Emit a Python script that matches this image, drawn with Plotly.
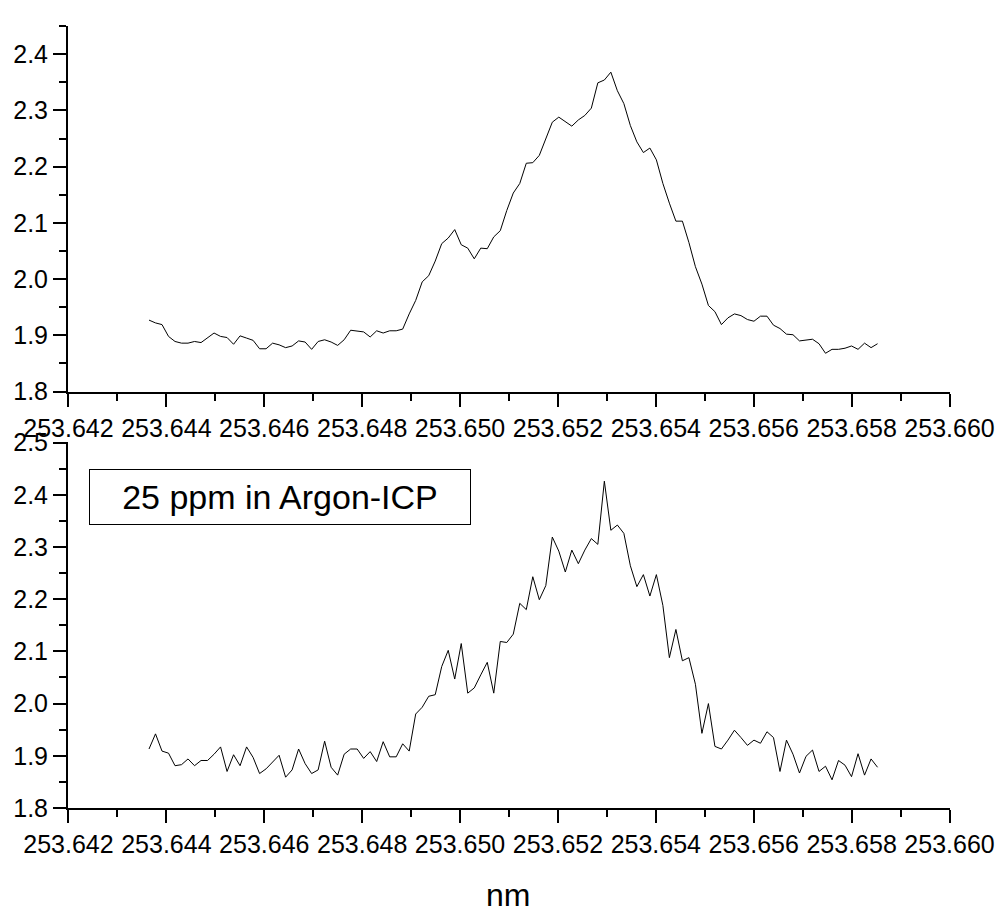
import numpy as np
import plotly.graph_objects as go

# wavelength grid (uniform sampling)
x_start = 253.643645
x_step = 0.0001329
n_points = 113
wavelength = [x_start + i * x_step for i in range(n_points)]

top_signal = [
    1.927, 1.922, 1.919, 1.898, 1.889, 1.886, 1.886, 1.889, 1.887, 1.896,
    1.904, 1.898, 1.896, 1.884, 1.899, 1.895, 1.891, 1.876, 1.876, 1.886,
    1.883, 1.878, 1.881, 1.890, 1.888, 1.875, 1.889, 1.892, 1.888, 1.882,
    1.892, 1.909, 1.907, 1.906, 1.897, 1.908, 1.904, 1.908, 1.908, 1.911,
    1.938, 1.962, 1.995, 2.006, 2.032, 2.063, 2.073, 2.088, 2.061, 2.055,
    2.036, 2.055, 2.054, 2.075, 2.086, 2.122, 2.153,
    2.170, 2.206, 2.207, 2.220, 2.250, 2.279, 2.288, 2.280, 2.272, 2.283,
    2.291, 2.304, 2.349, 2.354, 2.368, 2.335, 2.312, 2.273, 2.244, 2.225,
    2.233, 2.212, 2.170, 2.135, 2.103, 2.103, 2.065, 2.022, 1.991, 1.953,
    1.942, 1.919, 1.931, 1.938, 1.935, 1.928, 1.925, 1.934, 1.934, 1.918,
    1.912, 1.902, 1.901, 1.890, 1.892, 1.893, 1.885, 1.868, 1.875, 1.875,
    1.877, 1.881, 1.875, 1.886, 1.878, 1.885,
]

bottom_signal = [
    1.913, 1.942, 1.909, 1.905, 1.881, 1.883, 1.894, 1.881, 1.891, 1.891,
    1.903, 1.917, 1.870, 1.902, 1.881, 1.917, 1.897, 1.866, 1.875, 1.889,
    1.901, 1.859, 1.873, 1.913, 1.885, 1.866, 1.873, 1.928,
    1.878, 1.863, 1.903, 1.913, 1.913, 1.895, 1.908, 1.889, 1.927, 1.898,
    1.898, 1.923, 1.909, 1.980, 1.993, 2.014, 2.017, 2.071, 2.102, 2.047,
    2.115, 2.020, 2.030, 2.055, 2.079, 2.020, 2.119, 2.117, 2.133, 2.192,
    2.180, 2.243, 2.199, 2.226, 2.319, 2.292, 2.252, 2.294, 2.268, 2.294,
    2.316, 2.305, 2.426, 2.332, 2.342, 2.326, 2.264, 2.224, 2.247, 2.206,
    2.247, 2.188, 2.088, 2.142, 2.082, 2.088, 2.037, 1.943, 2.000, 1.918,
    1.913, 1.930, 1.949, 1.935, 1.920, 1.930, 1.924, 1.946, 1.935, 1.870,
    1.930, 1.903, 1.867, 1.899, 1.911, 1.870, 1.880, 1.854, 1.891, 1.882,
    1.860, 1.904, 1.863, 1.894, 1.878,
]

label_text = "25 ppm in Argon-ICP"
x_title = "nm"

FONT = "Liberation Sans, Arial, sans-serif"

fig = go.Figure()
fig.add_trace(go.Scatter(x=wavelength, y=top_signal, mode="lines",
                         line=dict(color="black", width=1),
                         xaxis="x", yaxis="y", showlegend=False))
fig.add_trace(go.Scatter(x=wavelength, y=bottom_signal, mode="lines",
                         line=dict(color="black", width=1),
                         xaxis="x2", yaxis="y2", showlegend=False))

common_axis = dict(showline=True, linecolor="black", linewidth=2,
                   ticks="outside", ticklen=13, tickwidth=2, tickcolor="black",
                   showgrid=False, zeroline=False,
                   tickfont=dict(family=FONT, size=25, color="black"))

xaxis_common = dict(common_axis, range=[253.64199, 253.66001], tick0=253.642,
                    dtick=0.002, tickformat=".3f",
                    minor=dict(ticks="outside", ticklen=7, tickwidth=2,
                               tickcolor="black", dtick=0.001, showgrid=False))

fig.update_layout(
    width=1007, height=913,
    margin=dict(l=68, r=49, t=17, b=105),
    paper_bgcolor="white", plot_bgcolor="white",
    xaxis=dict(xaxis_common, domain=[0, 1], anchor="y"),
    yaxis=dict(common_axis, domain=[0.5326, 1], anchor="x",
               range=[1.8, 2.4501], tick0=1.8, dtick=0.1, tickformat=".1f",
               minor=dict(ticks="outside", ticklen=7, tickwidth=2,
                          tickcolor="black", dtick=0.05, showgrid=False)),
    xaxis2=dict(xaxis_common, domain=[0, 1], anchor="y2"),
    yaxis2=dict(common_axis, domain=[0, 0.4674], anchor="x2",
                range=[1.8, 2.5001], tick0=1.8, dtick=0.1, tickformat=".1f",
                minor=dict(ticks="outside", ticklen=7, tickwidth=2,
                           tickcolor="black", dtick=0.05, showgrid=False)),
    annotations=[
        dict(text=label_text, xref="paper", yref="paper",
             x=(89 - 68) / 890, y=(808 - 465) / 791,
             xanchor="left", yanchor="top", showarrow=False,
             width=380, height=54, borderpad=0, borderwidth=1,
             bordercolor="black", align="center", valign="middle",
             font=dict(family=FONT, size=34, color="black")),
        dict(text=x_title, xref="paper", yref="paper",
             x=(512 - 68) / 890, y=(808 - 896) / 791,
             xanchor="center", yanchor="middle", showarrow=False,
             font=dict(family=FONT, size=32, color="black")),
    ],
)

fig.write_html("out.html")
